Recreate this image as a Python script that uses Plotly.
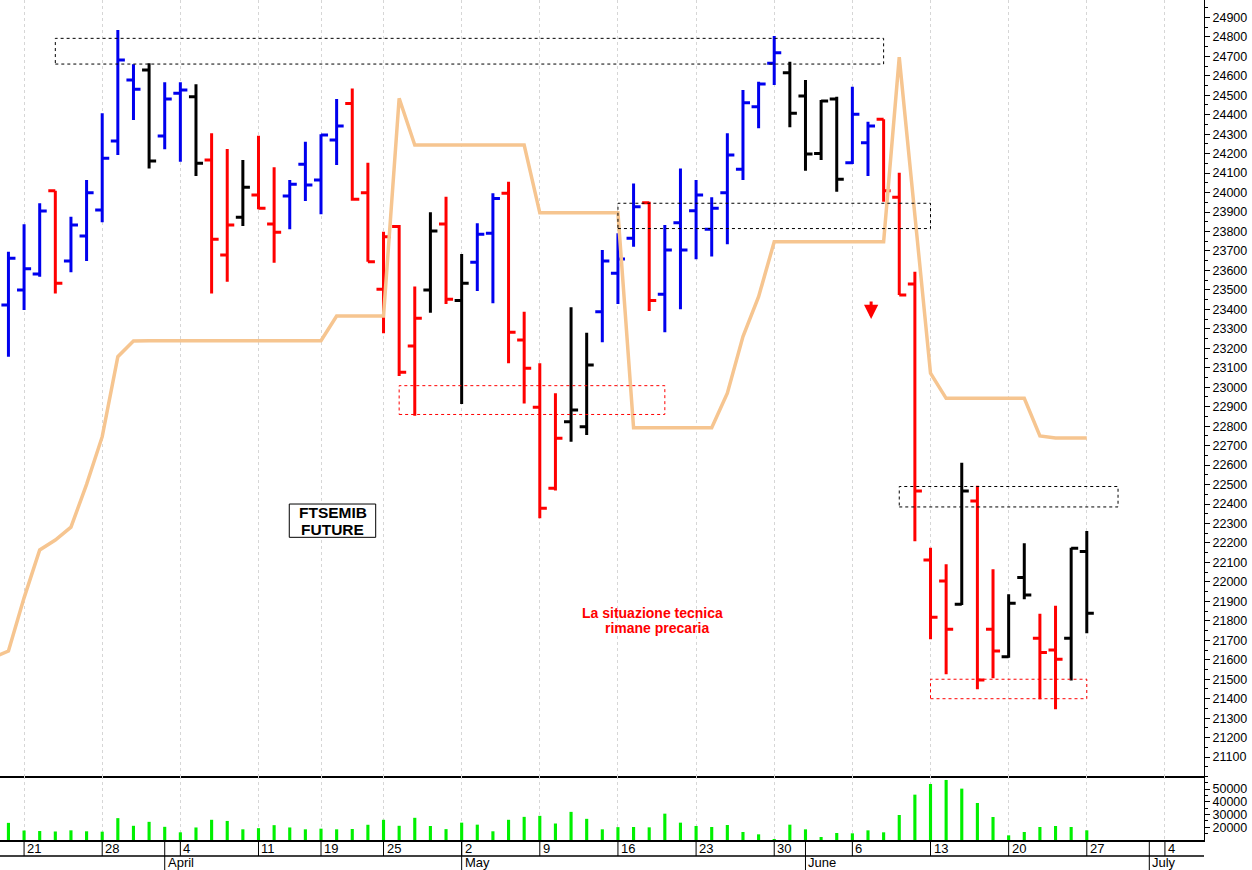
import plotly.graph_objects as go

# ---------------- data ----------------
days = ["18/3", "21/3", "22/3", "23/3", "24/3", "25/3", "28/3", "29/3", "30/3", "31/3",
        "1/4", "4/4", "5/4", "6/4", "7/4", "8/4", "11/4", "12/4", "13/4", "14/4",
        "19/4", "20/4", "21/4", "22/4", "25/4", "26/4", "27/4", "28/4", "29/4",
        "2/5", "3/5", "4/5", "5/5", "6/5", "9/5", "10/5", "11/5", "12/5", "13/5",
        "16/5", "17/5", "18/5", "19/5", "20/5", "23/5", "24/5", "25/5", "26/5", "27/5",
        "30/5", "31/5", "1/6", "2/6", "3/6", "6/6", "7/6", "8/6", "9/6", "10/6",
        "13/6", "14/6", "15/6", "16/6", "17/6", "20/6", "21/6", "22/6", "23/6", "24/6",
        "27/6"]

opens = [23422, 23499, 23582, 24009, 23648, 23777, 23910, 24265, 24578, 24629,
         24290, 24510, 24492, 24167, 23679, 23873, 23987, 23838, 23982, 24145,
         24064, 24270, 24458, 23999, 23503, 23825, 23212, 23499, 23838, 23445,
         23642, 23791, 23996, 23243, 22897, 22481, 22823, 22797, 23388, 23585,
         23765, 23948, 23477, 23845, 23907, 23811, 23999, 24119, 24441, 24664,
         24615, 24496, 24201, 24480, 24153, 24256, 24376, 23976, 23530, 22113,
         22005, 21885, 22416, 21757, 21616, 22022, 21711, 21650, 21711, 22156]
highs = [23696, 23837, 23945, 24009, 23876, 24064, 24407, 24835, 24659, 24664,
         24566, 24566, 24556, 24304, 24224, 24167, 24292, 24130, 24064, 24261,
         24299, 24480, 24535, 24153, 23799, 23833, 23517, 23899, 23979, 23684,
         23842, 23996, 24056, 23388, 23123, 22969, 23411, 23280, 23705, 23791,
         24047, 23953, 23833, 24124, 24064, 23976, 24304, 24527, 24569, 24804,
         24672, 24578, 24475, 24492, 24544, 24364, 24376, 24102, 23593, 22176,
         22091, 22612, 22494, 22065, 21937, 22198, 21836, 21877, 22176, 22262]
lows = [23157, 23397, 23568, 23482, 23590, 23648, 23847, 24193, 24373, 24124,
        24222, 24158, 24085, 23482, 23542, 23828, 23914, 23640, 23811, 23957,
        23888, 24141, 23958, 23645, 23277, 23058, 22854, 23383, 23427, 22914,
        23494, 23431, 23123, 22917, 22327, 22469, 22720, 22755, 23231, 23427,
        23722, 23392, 23282, 23400, 23657, 23672, 23734, 24064, 24330, 24552,
        24335, 24112, 24167, 24004, 24147, 24085, 23953, 23474, 22209, 21705,
        21526, 21881, 21449, 21505, 21611, 21911, 21397, 21346, 21493, 21736]
closes = [23662, 23609, 23905, 23534, 23833, 23999, 24176, 24681, 24530, 24162,
          24480, 24527, 24150, 23760, 23833, 24027, 23919, 23796, 24042, 24039,
          24296, 24342, 23965, 23645, 23773, 23077, 23354, 23802, 23452, 23534,
          23786, 23970, 23282, 23097, 22378, 22738, 22883, 23114, 23648, 23659,
          23927, 23445, 23705, 23705, 23987, 23919, 24193, 24461, 24557, 24718,
          24407, 24198, 24470, 24068, 24402, 24342, 24009, 23474, 22467, 21818,
          21757, 22467, 21496, 21645, 21890, 21933, 21637, 21603, 22173, 21839]
# B = blue, R = red, K = black
bar_groups = ["B", "B", "B", "R", "B", "B", "B", "B", "B", "K",
              "B", "B", "K", "R", "R", "K", "R", "R", "B", "B",
              "B", "B", "R", "R", "R", "R", "R", "K", "R", "K",
              "B", "B", "R", "R", "R", "R", "K", "K", "B", "B",
              "B", "R", "B", "B", "B", "B", "B", "B", "B", "B",
              "K", "K", "K", "K", "B", "B", "R", "R", "R", "R",
              "R", "K", "R", "R", "K", "K", "R", "R", "K", "K"]
volumes = [23500, 17500, 17100, 16750, 17650, 16900, 16600, 27200, 21200, 24300,
           20400, 16100, 19900, 25900, 25000, 18450, 19350, 21700, 19900, 18450,
           18950, 18450, 18700, 22000, 25900, 21200, 27450, 21050, 18600, 23670,
           22100, 16900, 25900, 28200, 29000, 23000, 32100, 26650, 18450, 20150,
           20260, 20000, 30710, 23660, 21050, 20260, 21830, 16350, 14520, 10860,
           22090, 18430, 12430, 15560, 15300, 17650, 16090, 29660, 45590, 53940,
           57080, 50290, 39060, 28100, 13740, 16350, 20260, 21050, 20260, 17650]
# trailing stop line, starting one session before the first bar (17/3)
stop_line = [21610,
             21645, 21918, 22164, 22215, 22281, 22501, 22746, 23157, 23237, 23239,
             23239, 23239, 23239, 23239, 23239, 23239, 23239, 23239, 23239, 23239,
             23239, 23366, 23366, 23366, 23366, 24484, 24244, 24244, 24244, 24244,
             24244, 24244, 24244, 24244, 23896, 23896, 23896, 23896, 23896, 23896,
             22792, 22792, 22792, 22792, 22792, 22792, 22969, 23260, 23465, 23747,
             23747, 23747, 23747, 23747, 23747, 23747, 23747, 24695, 23885, 23072,
             22943, 22943, 22943, 22943, 22943, 22943, 22750, 22739, 22739, 22739]

week_idx = [1, 6, 11, 16, 20, 24, 29, 34, 39, 44, 49, 54, 59, 64, 69, 74]
week_labels = ["21", "28", "4", "11", "19", "25", "2", "9", "16", "23", "30", "6", "13", "20", "27", "4"]
month_idx = [10, 29, 51, 73]
month_labels = ["April", "May", "June", "July"]
price_ticks = list(range(21100, 25000, 100))
volume_ticks = [20000, 30000, 40000, 50000]

# ---------------- figure ----------------
W, H = 1252, 870
M_L, M_R, M_T, M_B = 0, 48, 0, 30
PLOT_H = H - M_T - M_B
X_RANGE = [-0.54, 76.5]
VOL_FRAC = 64 / PLOT_H
FONT = "Liberation Sans, Arial, sans-serif"

def xpaper(v):
    return (v - X_RANGE[0]) / (X_RANGE[1] - X_RANGE[0])

def ypaper(px_below):
    return -px_below / PLOT_H

fig = go.Figure()
x_all = list(range(len(days)))

fig.add_trace(go.Scatter(x=list(range(-1, len(days))), y=stop_line, mode="lines",
                         line=dict(color="#F6C590", width=3.5), hoverinfo="skip",
                         showlegend=False, xaxis="x", yaxis="y"))

colors = {"B": "#0000EE", "R": "#FF0000", "K": "#000000"}
for code, col in colors.items():
    ids = [i for i, g in enumerate(bar_groups) if g == code]
    fig.add_trace(go.Ohlc(
        x=ids,
        open=[opens[i] for i in ids], high=[highs[i] for i in ids],
        low=[lows[i] for i in ids], close=[closes[i] for i in ids],
        increasing=dict(line=dict(color=col, width=3)),
        decreasing=dict(line=dict(color=col, width=3)),
        tickwidth=0.45, hoverinfo="skip", showlegend=False,
        xaxis="x", yaxis="y"))

fig.add_trace(go.Bar(x=x_all, y=volumes, marker=dict(color="#00F000", line=dict(width=0)),
                     width=0.2, hoverinfo="skip", showlegend=False,
                     xaxis="x2", yaxis="y2"))

grid = dict(showgrid=True, gridcolor="#d6d6d6", griddash="3px,3px", gridwidth=1)
fig.update_layout(
    width=W, height=H, margin=dict(l=M_L, r=M_R, t=M_T, b=M_B, autoexpand=False),
    paper_bgcolor="white", plot_bgcolor="white", showlegend=False,
    font=dict(family=FONT, color="black", size=12.5),
    xaxis=dict(domain=[0, 1], range=X_RANGE, anchor="y", tickvals=week_idx,
               showticklabels=False, ticks="", showline=True, linecolor="black",
               linewidth=1.5, zeroline=False, rangeslider=dict(visible=False), **grid),
    xaxis2=dict(domain=[0, 1], range=X_RANGE, anchor="y2", matches="x", tickvals=week_idx,
                showticklabels=False, ticks="", showline=True, linecolor="black",
                linewidth=1.5, zeroline=False, **grid),
    yaxis=dict(domain=[VOL_FRAC, 1], range=[21003, 24989], side="right", anchor="x",
               tickvals=price_ticks, tickformat="d", ticks="outside", ticklen=5,
               tickcolor="black", showline=True, linecolor="black", linewidth=1,
               showgrid=False, zeroline=False, tickfont=dict(size=12.5, family=FONT),
               minor=dict(tick0=0, dtick=50, ticks="outside", ticklen=3, tickcolor="black")),
    yaxis2=dict(domain=[0, VOL_FRAC], range=[10080, 60180], side="right", anchor="x2",
                tickvals=volume_ticks, tickformat="d", ticks="outside", ticklen=5,
                tickcolor="black", showline=True, linecolor="black", linewidth=1,
                showgrid=False, zeroline=False, tickfont=dict(size=12.5, family=FONT),
                minor=dict(tick0=0, dtick=5000, ticks="outside", ticklen=3, tickcolor="black")),
)

shapes = []
def dash_rect(x0, x1, y0, y1, col):
    shapes.append(dict(type="rect", xref="x", yref="y", x0=x0, x1=x1, y0=y0, y1=y1,
                       line=dict(color=col, width=1, dash="3px,3px"), layer="above"))

dash_rect(3, 56, 24660, 24792, "black")
dash_rect(39, 59, 23815, 23945, "black")
dash_rect(25, 42, 22860, 23008, "#FF0000")
dash_rect(57, 71, 22385, 22490, "black")
dash_rect(59, 69, 21400, 21500, "#FF0000")

# bottom date rows
shapes.append(dict(type="line", xref="paper", yref="paper", x0=0, x1=1,
                   y0=ypaper(16), y1=ypaper(16), line=dict(color="black", width=1.5)))
for w in week_idx:
    shapes.append(dict(type="line", xref="paper", yref="paper", x0=xpaper(w), x1=xpaper(w),
                       y0=0, y1=ypaper(16), line=dict(color="black", width=1)))
for m in month_idx:
    shapes.append(dict(type="line", xref="paper", yref="paper", x0=xpaper(m), x1=xpaper(m),
                       y0=0, y1=ypaper(30), line=dict(color="black", width=1)))
# FTSEMIB box
shapes.append(dict(type="rect", xref="x", yref="y", x0=17.97, x1=23.5, y0=22229, y1=22400,
                   line=dict(color="black", width=1), fillcolor="white", layer="above"))
fig.update_layout(shapes=shapes)

ann = []
for w, lab in zip(week_idx, week_labels):
    ann.append(dict(x=w, y=ypaper(8), xref="x", yref="paper", text=lab, showarrow=False,
                    xanchor="left", yanchor="middle", xshift=1,
                    font=dict(size=13, family=FONT, color="black")))
for m, lab in zip(month_idx, month_labels):
    ann.append(dict(x=m, y=ypaper(23), xref="x", yref="paper", text=lab, showarrow=False,
                    xanchor="left", yanchor="middle", xshift=1,
                    font=dict(size=13, family=FONT, color="black")))
ann.append(dict(x=20.74, y=22355, xref="x", yref="y", text="<b>FTSEMIB</b>", showarrow=False,
                font=dict(size=15.5, family=FONT, color="black")))
ann.append(dict(x=20.74, y=22267, xref="x", yref="y", text="<b>FUTURE</b>", showarrow=False,
                font=dict(size=15.5, family=FONT, color="black")))
ann.append(dict(x=41.22, y=21839, xref="x", yref="y", text="<b>La situazione tecnica</b>",
                showarrow=False, font=dict(size=14, family=FONT, color="#FF0000")))
ann.append(dict(x=41.5, y=21762, xref="x", yref="y", text="<b>rimane precaria</b>",
                showarrow=False, font=dict(size=14, family=FONT, color="#FF0000")))
ann.append(dict(x=55.2, y=23350, xref="x", yref="y", ax=0, ay=-19, text="", showarrow=True,
                arrowhead=2, arrowsize=0.95, arrowwidth=3, arrowcolor="#FF0000"))
fig.update_layout(annotations=ann)

fig.write_html("out.html", config={"displayModeBar": False},
               post_script="document.body.style.margin='0';")
